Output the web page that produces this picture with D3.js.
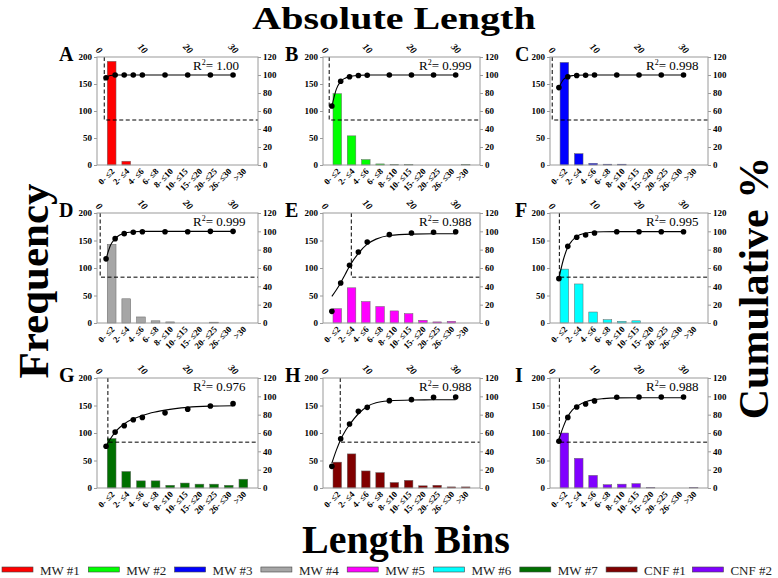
<!DOCTYPE html>
<html>
<head>
<meta charset="utf-8">
<script src="https://cdn.jsdelivr.net/npm/d3@7"></script>
<style>
  body { margin: 0; background: #fff; }
  svg { display: block; font-family: "Liberation Serif", "Times New Roman", serif; }
</style>
</head>
<body>
<svg id="chart" width="778" height="578"></svg>
<script>
// ---- data ----
const binLabels = ["0- \u22642", "2- \u22644", "4- \u22646", "6- \u22648", "8- \u226410",
  "10- \u226415", "15- \u226420", "20- \u226425", "26- \u226430", ">30"];
const cumX = [2, 4, 6, 8, 10, 15, 20, 25, 30];
const fitX = [2, 3, 4, 5, 6, 8, 10, 12, 15, 20, 25, 30];
const panelLetters = ["A", "B", "C", "D", "E", "F", "G", "H", "I"];
const seriesNames = ["MW #1", "MW #2", "MW #3", "MW #4", "MW #5", "MW #6", "MW #7", "CNF #1", "CNF #2"];
const seriesColors = ["#ff0000", "#00ff00", "#0000ff", "#a6a6a6", "#ff00ff", "#00ffff", "#007000", "#800000", "#8000ff"];

// frequency per length bin
const freq = [
  [192, 7, 0, 0, 0, 0, 0, 0, 0, 0],
  [132, 54, 10, 2, 0.6, 0.6, 0, 0, 0, 0.6],
  [190, 21, 3, 1.5, 1.5, 0, 0, 0, 0, 0],
  [143, 44, 11, 4, 2, 0, 0, 1.5, 0, 0],
  [26, 64, 39, 30, 22, 17, 5, 2, 3, 0],
  [98, 71, 20, 6, 3, 4, 0, 0, 0, 0],
  [90, 30, 13, 13, 5, 9, 7, 7, 5, 16],
  [47, 62, 31, 28, 10, 14, 4, 5, 2, 2],
  [100, 54, 23, 6, 7, 8, 1, 0, 0, 1]
];
// cumulative % points
const cumPct = [
  [97, 100, 100, 100, 100, 100, 100, 100, 100],
  [65.5, 93, 98, 99.5, 99.7, 100, 100, 100, 100],
  [86, 98, 99.5, 99.8, 100, 100, 100, 100, 100],
  [70, 92, 97.5, 99, 99.5, 99.5, 99.5, 100, 100],
  [12.7, 43.6, 63, 77.5, 88.4, 96.4, 98.2, 99, 99.6],
  [48.4, 83.6, 93.5, 96, 98.2, 99.6, 99.6, 99.6, 99.6],
  [45.5, 61, 68, 74.5, 77, 82, 86, 89.5, 92],
  [23.6, 53.8, 69.8, 83.6, 88, 95.3, 96.4, 98.9, 99.3],
  [51, 77, 88.4, 91.6, 95, 99, 99.3, 99.3, 99.3]
];
// fitted curve, sampled at fitX
const fitPct = [
  [97.5, 99.5, 100, 100, 100, 100, 100, 100, 100, 100, 100, 100],
  [65, 84, 93, 96.5, 98.5, 99.6, 100, 100, 100, 100, 100, 100],
  [86, 95, 98, 99.3, 99.7, 100, 100, 100, 100, 100, 100, 100],
  [70, 85, 92, 96, 98, 99.5, 100, 100, 100, 100, 100, 100],
  [29, 36, 44, 53, 62, 76, 86, 91.5, 95.5, 97, 97.3, 97.3],
  [49, 69, 83, 90, 94.5, 98, 99.3, 99.6, 99.7, 99.7, 99.7, 99.7],
  [46, 54, 61, 66, 70, 75.5, 79, 82, 85, 88, 89.3, 89.8],
  [27, 41, 53, 62, 69, 81, 89, 93, 95, 96, 96.2, 96.3],
  [53, 67, 78, 85, 89, 94, 96.4, 97.5, 98.3, 98.5, 98.5, 98.5]
];
const medianLen = [1.6, 1.4, 0.5, 0.7, 6.4, 2.1, 2.4, 3.9, 2.1];
const r2Labels = ["1.00", "0.999", "0.998", "0.999", "0.988", "0.995", "0.976", "0.988", "0.988"];
const leftTicks = [0, 50, 100, 150, 200];
const rightTicks = [0, 20, 40, 60, 80, 100, 120];
const topTicks = [0, 10, 20, 30];

// ---- layout ----
const cols = [{x: 97, w: 161}, {x: 323, w: 157}, {x: 550, w: 158}];
const rows = [{y: 57, h: 108}, {y: 213, h: 110}, {y: 378, h: 110}];
const letterX = [59, 285, 515];
const frameColor = "#9a9a9a";

const svg = d3.select("#chart");

panelLetters.forEach((letter, i) => {
  const c = cols[i % 3], r = rows[Math.floor(i / 3)];
  const g = svg.append("g").attr("transform", `translate(${c.x},${r.y})`);

  const step = c.w / 11;
  const x = d3.scalePoint().domain(binLabels).range([step, step * 10]);
  const xTop = d3.scaleLinear().domain([0, 35.5]).range([0, c.w]);
  const yL = d3.scaleLinear().domain([0, 200]).range([r.h, 0]);
  const yR = d3.scaleLinear().domain([0, 120]).range([r.h, 0]);

  // bars
  g.selectAll(".bar")
    .data(freq[i])
    .join("rect")
    .attr("class", "bar")
    .attr("x", (d, k) => x(binLabels[k]) - step * 0.3)
    .attr("width", step * 0.6)
    .attr("y", d => yL(d))
    .attr("height", d => r.h - yL(d))
    .attr("fill", seriesColors[i])
    .attr("stroke", d => d > 0 ? "#666" : "none")
    .attr("stroke-width", 0.5);

  // median dashed guide
  const mx = xTop(medianLen[i]), my = yR(50);
  g.append("path")
    .attr("d", `M${mx},0V${my}H${c.w}`)
    .attr("fill", "none")
    .attr("stroke", "#000")
    .attr("stroke-width", 1)
    .attr("stroke-dasharray", "4,2.5");

  // fitted curve
  const line = d3.line()
    .x(d => xTop(d[0]))
    .y(d => yR(d[1]))
    .curve(d3.curveMonotoneX);
  g.append("path")
    .datum(fitX.map((v, k) => [v, fitPct[i][k]]))
    .attr("d", line)
    .attr("fill", "none")
    .attr("stroke", "#000")
    .attr("stroke-width", 1.1);

  // cumulative points
  g.selectAll(".pt")
    .data(cumPct[i])
    .join("circle")
    .attr("class", "pt")
    .attr("cx", (d, k) => xTop(cumX[k]))
    .attr("cy", d => yR(d))
    .attr("r", 2.8)
    .attr("fill", "#000");

  // frame
  g.append("rect")
    .attr("width", c.w)
    .attr("height", r.h)
    .attr("fill", "none")
    .attr("stroke", frameColor);

  // axes
  const styleAxis = sel => {
    sel.attr("font-family", null).attr("font-size", null);
    sel.selectAll("line").attr("stroke", frameColor);
    sel.select(".domain").remove();
    sel.selectAll("text")
      .attr("font-size", 9)
      .attr("font-weight", "bold")
      .attr("fill", "#000");
  };

  g.append("g")
    .call(d3.axisLeft(yL).tickValues(leftTicks).tickSize(3).tickPadding(2))
    .call(styleAxis);

  g.append("g")
    .attr("transform", `translate(${c.w},0)`)
    .call(d3.axisRight(yR).tickValues(rightTicks).tickSize(3).tickPadding(2))
    .call(styleAxis);

  g.append("g")
    .call(d3.axisTop(xTop).tickValues(topTicks).tickSize(0))
    .call(styleAxis)
    .call(a => a.selectAll("text")
      .attr("y", 0).attr("dy", 0)
      .attr("text-anchor", "end")
      .attr("font-style", "italic")
      .attr("font-size", 9.5)
      .attr("transform", "translate(1,-3) rotate(45)"));

  g.append("g")
    .attr("transform", `translate(0,${r.h})`)
    .call(d3.axisBottom(x).tickSize(0))
    .call(styleAxis)
    .call(a => a.selectAll("text")
      .attr("y", 0).attr("dy", 0)
      .attr("font-size", 8.8)
      .attr("text-anchor", "end")
      .attr("transform", "translate(3,7) rotate(-45)"));

  // R squared
  const rt = g.append("text")
    .attr("x", 96)
    .attr("y", 13)
    .attr("font-size", 13);
  rt.append("tspan").text("R");
  rt.append("tspan").attr("font-size", 8).attr("dy", -5).text("2");
  rt.append("tspan").attr("dy", 5).text("= " + r2Labels[i]);

  // panel letter
  svg.append("text")
    .attr("x", letterX[i % 3])
    .attr("y", r.y + 4)
    .attr("font-size", 20)
    .attr("font-weight", "bold")
    .text(letter);
});

// titles
svg.append("text")
  .attr("transform", "translate(394,29) scale(1,0.79)")
  .attr("text-anchor", "middle")
  .attr("font-size", 40).attr("font-weight", "bold")
  .text("Absolute Length");

svg.append("text")
  .attr("x", 406).attr("y", 553)
  .attr("text-anchor", "middle")
  .attr("font-size", 40).attr("font-weight", "bold")
  .text("Length Bins");

svg.append("text")
  .attr("transform", "translate(48,281) rotate(-90)")
  .attr("text-anchor", "middle")
  .attr("font-size", 43).attr("font-weight", "bold")
  .text("Frequency");

svg.append("text")
  .attr("transform", "translate(768,288) rotate(-90)")
  .attr("text-anchor", "middle")
  .attr("font-size", 42).attr("font-weight", "bold")
  .text("Cumulative %");

// legend
const legend = svg.append("g").attr("transform", "translate(2,567)");
const item = legend.selectAll(".item")
  .data(seriesNames)
  .join("g")
  .attr("class", "item")
  .attr("transform", (d, k) => `translate(${k * 86.3},0)`);
item.append("rect")
  .attr("width", 31).attr("height", 5)
  .attr("fill", (d, k) => seriesColors[k])
  .attr("stroke", "#444").attr("stroke-width", 0.6);
item.append("text")
  .attr("x", 38).attr("y", 7.5)
  .attr("font-size", 13)
  .attr("fill", "#222")
  .text(d => d);
</script>
</body>
</html>
